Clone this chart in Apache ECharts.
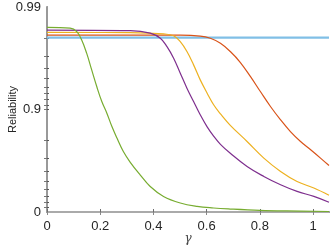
<!DOCTYPE html>
<html><head><meta charset="utf-8">
<script src="https://cdn.jsdelivr.net/npm/echarts@6/dist/echarts.min.js"></script>
<style>html,body{margin:0;padding:0;background:#fff}#c{width:332px;height:249px}</style>
</head><body><div id="c"></div>
<script>
// gamma values and reliability for each curve
const blueX = [0, 1.06];
const blueR = [0.9801, 0.9801];
const orangeX = [0, 0.501, 0.576, 0.614, 0.652, 0.689, 0.727, 0.765, 0.802, 0.840, 0.878, 0.915, 0.953, 0.991, 1.028, 1.06];
const orangeR = [0.9812, 0.9812, 0.9808, 0.9798, 0.9774, 0.9728, 0.9652, 0.9522, 0.9332, 0.9065, 0.8738, 0.8359, 0.7949, 0.7528, 0.7021, 0.6476];
const yellowX = [0, 0.313, 0.438, 0.476, 0.501, 0.526, 0.551, 0.576, 0.602, 0.627, 0.652, 0.689, 0.752, 0.815, 0.878, 0.940, 1.003, 1.06];
const yellowR = [0.9823, 0.9822, 0.9817, 0.9809, 0.9782, 0.9728, 0.9633, 0.9486, 0.9307, 0.9096, 0.8898, 0.8574, 0.7949, 0.7021, 0.5982, 0.4965, 0.4166, 0.3145];
const purpleX = [0, 0.313, 0.388, 0.426, 0.451, 0.476, 0.501, 0.526, 0.551, 0.576, 0.602, 0.627, 0.652, 0.689, 0.752, 0.815, 0.878, 0.940, 1.003, 1.06];
const purpleR = [0.9832, 0.9830, 0.9820, 0.9798, 0.9756, 0.9684, 0.9557, 0.9381, 0.9163, 0.8873, 0.8524, 0.8172, 0.7812, 0.7327, 0.6403, 0.5502, 0.4580, 0.3705, 0.2953, 0.1965];
const greenX = [0, 0.087, 0.112, 0.130, 0.149, 0.168, 0.187, 0.206, 0.225, 0.244, 0.263, 0.287, 0.313, 0.350, 0.388, 0.438, 0.501, 0.564, 0.626, 0.689, 0.80, 0.90, 1.06];
const greenR = [0.9842, 0.9839, 0.9826, 0.9791, 0.9718, 0.9589, 0.9403, 0.9163, 0.8914, 0.8534, 0.8099, 0.7430, 0.6727, 0.5665, 0.4364, 0.2953, 0.1834, 0.1190, 0.0859, 0.0646, 0.0362, 0.0228, 0.0114];

const xTickLabels = [0, 0.2, 0.4, 0.6, 0.8, 1];
const yMajorR = [0, 0.9, 0.99];
const yLabelText = ['0', '0.9', '0.99'];
const yMinorR = [0.1, 0.2, 0.3, 0.4, 0.5, 0.6, 0.7, 0.8, 0.9, 0.91, 0.92, 0.93, 0.94, 0.95, 0.96, 0.97, 0.98];

// reliability scale: position = -log10(1 - R)
const tr = r => -Math.log10(1 - r);
const pairs = (xs, rs) => xs.map((x, i) => [x, tr(rs[i])]);

const yMajor = yMajorR.map(tr);
const yMinor = yMinorR.map(tr);
const fontFam = '"Liberation Sans", Arial, Helvetica, sans-serif';

const chart = echarts.init(document.getElementById('c'), null, {renderer: 'canvas'});
const mkLine = (name, xs, rs, color, w, z) => ({
  name, type: 'line', data: pairs(xs, rs), showSymbol: false, symbol: 'none',
  smooth: 0.4, lineStyle: {color, width: w}, z, animation: false
});

chart.setOption({
  animation: false,
  grid: {left: 47, right: 3, top: 7, bottom: 37, containLabel: false, outerBoundsMode: 'none'},
  xAxis: [{
    type: 'value', min: 0, max: 1.06, position: 'bottom',
    name: 'γ', nameLocation: 'middle', nameGap: 21, nameMoveOverlap: false,
    nameTextStyle: {fontFamily: '"DejaVu Serif", serif', fontStyle: 'italic', fontSize: 12, color: '#444'},
    axisLine: {show: true, lineStyle: {color: '#6e6e6e', width: 2}},
    axisTick: {show: true, inside: true, length: 3, customValues: xTickLabels, lineStyle: {color: '#6e6e6e'}},
    axisLabel: {customValues: xTickLabels, formatter: v => String(+v.toFixed(2)), fontSize: 13, color: '#262626', margin: 8, fontFamily: fontFam},
    splitLine: {show: false}
  }, {
    type: 'value', min: 0, max: 1.06, position: 'top',
    axisLine: {show: true, lineStyle: {color: '#aaaaaa', width: 2}},
    axisTick: {show: true, inside: true, length: 3, customValues: xTickLabels, lineStyle: {color: '#888'}},
    axisLabel: {show: false}, splitLine: {show: false}
  }],
  yAxis: [{
    type: 'value', min: 0, max: 2, position: 'left',
    name: 'Reliability', nameLocation: 'middle', nameGap: 29, nameRotate: 90, nameMoveOverlap: false,
    nameTextStyle: {fontSize: 11, color: '#262626', fontFamily: fontFam},
    axisLine: {show: true, lineStyle: {color: '#444', width: 1}},
    axisTick: {show: true, inside: true, length: 2, customValues: yMinor, lineStyle: {color: '#555'}},
    axisLabel: {customValues: yMajor, formatter: (v) => {
      const i = yMajor.findIndex(m => Math.abs(m - v) < 1e-6); return i >= 0 ? yLabelText[i] : '';
    }, fontSize: 13, color: '#262626', margin: 6, fontFamily: fontFam},
    splitLine: {show: false}
  }, {
    type: 'value', min: 0, max: 2, position: 'right',
    axisLine: {show: true, lineStyle: {color: '#999', width: 2}},
    axisTick: {show: true, inside: true, length: 3, customValues: yMinor, lineStyle: {color: '#777'}},
    axisLabel: {show: false}, splitLine: {show: false}
  }],
  series: [
    mkLine('blue', blueX, blueR, '#80bfe6', 2.2, 2),
    mkLine('orange', orangeX, orangeR, '#D95319', 1.2, 3),
    mkLine('yellow', yellowX, yellowR, '#EDB120', 1.2, 4),
    mkLine('purple', purpleX, purpleR, '#7E2F8E', 1.2, 5),
    mkLine('green', greenX, greenR, '#77AC30', 1.2, 6)
  ]
});
</script></body></html>
